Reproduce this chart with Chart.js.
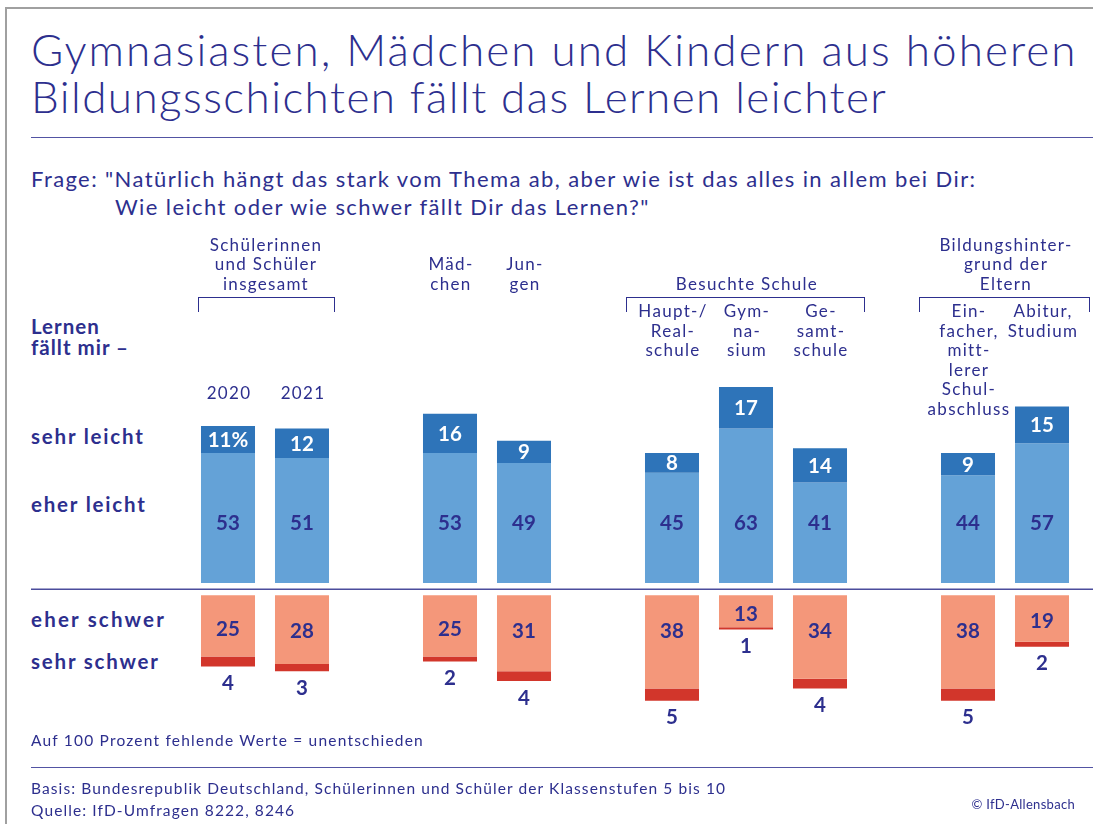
<!DOCTYPE html>
<html lang="de">
<head>
<meta charset="utf-8">
<title>Lernen fällt mir</title>
<script src="https://cdn.jsdelivr.net/npm/chart.js@4.4.1/dist/chart.umd.min.js"></script>
<style>
body{margin:0;background:#fff;font-family:Lato,"Noto Sans",sans-serif;color:#2d2f8e;}
#wrap{position:relative;width:1093px;height:824px;overflow:hidden;}
#frame{position:absolute;left:5px;top:7px;width:1200px;height:900px;border-left:2px solid #a0a0a0;border-top:2px solid #a0a0a0;}
#chart{position:absolute;left:0;top:0;}
.t{position:absolute;white-space:nowrap;}
.title{left:31px;top:26px;font-size:44px;line-height:47px;font-weight:300;letter-spacing:1.8px;}
.rule{position:absolute;left:31px;right:0;height:0;border-top:1.5px solid #5253a3;}
.frage{left:31px;top:165px;font-size:22px;line-height:28px;letter-spacing:1.4px;}
.row{left:31px;font-size:20.5px;line-height:22px;font-weight:bold;letter-spacing:1.8px;}
.head{font-size:17px;line-height:19.5px;text-align:center;transform:translateX(-50%);letter-spacing:1.3px;}
.bracket{position:absolute;border-top:1.5px solid #2d2f8e;border-left:1.5px solid #2d2f8e;border-right:1.5px solid #2d2f8e;height:14px;}
.foot{left:31px;font-size:15.5px;line-height:18px;letter-spacing:1.1px;}
</style>
</head>
<body>
<div id="wrap">
  <div id="frame"></div>
  <div class="t title"><span style="letter-spacing:2.05px">Gymnasiasten, Mädchen und Kindern aus höheren</span><br><span style="letter-spacing:1.45px">Bildungsschichten fällt das Lernen leichter</span></div>
  <div class="rule" style="top:137px"></div>
  <div class="t frage">Frage: "Natürlich hängt das stark vom Thema ab, aber wie ist das alles in allem bei Dir:<br><span style="padding-left:84px">Wie leicht oder wie schwer fällt Dir das Lernen?"</span></div>
  <div class="t row" style="top:316px;line-height:21px;letter-spacing:1px">Lernen<br>fällt mir –</div>
  <div class="t row" style="top:425px">sehr leicht</div>
  <div class="t row" style="top:493px">eher leicht</div>
  <div class="t row" style="top:608px;letter-spacing:2.2px">eher schwer</div>
  <div class="t row" style="top:650px">sehr schwer</div>
  <canvas id="chart" width="1093" height="824"></canvas>
  <div class="t foot" style="top:731px;letter-spacing:1.2px">Auf 100 Prozent fehlende Werte = unentschieden</div>
  <div class="rule" style="top:767px"></div>
  <div class="t foot" style="top:779px">Basis: Bundesrepublik Deutschland, Schülerinnen und Schüler der Klassenstufen 5 bis 10</div>
  <div class="t foot" style="top:801px">Quelle: IfD-Umfragen 8222, 8246</div>
  <div class="t" style="right:18px;top:796px;font-size:13px;letter-spacing:0.3px">© IfD-Allensbach</div>
</div>
<script>
// categories (empty strings are the gaps between the groups)
var categories = ["2020", "2021", "", "Mädchen", "Jungen", "", "Haupt-/Realschule", "Gymnasium", "Gesamtschule", "", "Einfacher, mittlerer Schulabschluss", "Abitur, Studium"];
var headerLines = [["2020"], ["2021"], [], ["Mäd-", "chen"], ["Jun-", "gen"], [], ["Haupt-/", "Real-", "schule"], ["Gym-", "na-", "sium"], ["Ge-", "samt-", "schule"], [], ["Ein-", "facher,", "mitt-", "lerer", "Schul-", "abschluss"], ["Abitur,", "Studium"]];

var sehrLeicht = [11, 12, null, 16, 9, null, 8, 17, 14, null, 9, 15];
var eherLeicht = [53, 51, null, 53, 49, null, 45, 63, 41, null, 44, 57];
var eherSchwer = [25, 28, null, 25, 31, null, 38, 13, 34, null, 38, 19];
var sehrSchwer = [4, 3, null, 2, 4, null, 5, 1, 4, null, 5, 2];

// group headers: text lines, first/last category index
var groups = [
    { lines: ["Schülerinnen", "und Schüler", "insgesamt"], from: 0, to: 1 },
    { lines: ["Besuchte Schule"], from: 6, to: 8 },
    { lines: ["Bildungshinter-", "grund der", "Eltern"], from: 10, to: 11 },
];

var GAP = 2.5; // white gap on both sides of the zero line

let floatUp = (base, vals) => vals.map((v, i) => (v == null ? null : [GAP + base[i], GAP + base[i] + v]));
let floatDown = (base, vals) => vals.map((v, i) => (v == null ? null : [-GAP - base[i], -GAP - base[i] - v]));
var zeros = categories.map(() => 0);

var valueLabels = {
    id: "valueLabels",
    afterDatasetsDraw(chart) {
        var ctx = chart.ctx;
        var zero = chart.scales.y.getPixelForValue(0);
        ctx.save();
        ctx.strokeStyle = "#4b4c9c";
        ctx.lineWidth = 1.5;
        ctx.beginPath();
        ctx.moveTo(31, zero);
        ctx.lineTo(chart.width, zero);
        ctx.stroke();
        ctx.font = "bold 20.5px Lato";
        ctx.textAlign = "center";
        ctx.textBaseline = "middle";
        chart.data.datasets.forEach((ds, di) => {
            chart.getDatasetMeta(di).data.forEach((bar, i) => {
                var v = ds.raw[i];
                if (v == null) return;
                var top = Math.min(bar.y, bar.base);
                var bottom = Math.max(bar.y, bar.base);
                var y;
                var text = String(v);
                ctx.fillStyle = "#2d2f8e";
                if (di == 0) {
                    ctx.fillStyle = "#ffffff";
                    y = (top + bottom) / 2;
                    if (i == 0) text = v + "%";
                } else if (di == 1) {
                    y = zero - 67;
                } else if (di == 2) {
                    y = Math.min((top + bottom) / 2 + 2, zero + 41);
                } else {
                    y = bottom + 16;
                }
                ctx.fillText(text, bar.x, y + 1);
            });
        });
        ctx.restore();
    },
};

var ctx = document.getElementById("chart").getContext("2d");
var myChart = new Chart(ctx, {
    type: "bar",
    data: {
        labels: categories,
        datasets: [
            { label: "sehr leicht", data: floatUp(eherLeicht, sehrLeicht), raw: sehrLeicht, backgroundColor: "#2e74b9" },
            { label: "eher leicht", data: floatUp(zeros, eherLeicht), raw: eherLeicht, backgroundColor: "#64a2d7" },
            { label: "eher schwer", data: floatDown(zeros, eherSchwer), raw: eherSchwer, backgroundColor: "#f4977a" },
            { label: "sehr schwer", data: floatDown(eherSchwer, sehrSchwer), raw: sehrSchwer, backgroundColor: "#d2362b" },
        ],
    },
    options: {
        responsive: false,
        devicePixelRatio: 1,
        animation: false,
        layout: { padding: { left: 191, right: 14, top: 380.75, bottom: 112.25 } },
        datasets: { bar: { grouped: false, barPercentage: 0.73, categoryPercentage: 1, borderWidth: 0 } },
        plugins: { legend: { display: false }, tooltip: { enabled: false } },
        scales: {
            x: { display: false, offset: true },
            y: { display: false, min: -50, max: 85 },
        },
    },
    plugins: [valueLabels],
});

// header texts above the bars, placed on the x scale
let placeHeaders = () => {
    var wrap = document.getElementById("wrap");
    var xs = myChart.scales.x;
    headerLines.forEach((lines, i) => {
        if (!lines.length) return;
        var d = document.createElement("div");
        d.className = "t head";
        d.style.left = xs.getPixelForValue(i) + 1 + "px";
        d.style.top = (i < 2 ? 383 : i < 6 ? 254 : 301) + "px";
        d.innerHTML = lines.join("<br>");
        wrap.appendChild(d);
    });
    groups.forEach((g) => {
        var x1 = xs.getPixelForValue(g.from);
        var x2 = xs.getPixelForValue(g.to);
        var d = document.createElement("div");
        d.className = "t head";
        d.style.left = (x1 + x2) / 2 + 1 + "px";
        d.style.top = 293 - g.lines.length * 19.5 + "px";
        d.innerHTML = g.lines.join("<br>");
        wrap.appendChild(d);
        var b = document.createElement("div");
        b.className = "bracket";
        var pad = g.from == 0 ? 30 : g.from == 6 ? 46 : 49;
        var right = g.from == 10 ? 1088 : x2 + (g.from == 0 ? 31 : 43);
        b.style.left = x1 - pad + "px";
        b.style.width = right - (x1 - pad) + "px";
        b.style.top = "297px";
        wrap.appendChild(b);
    });
};
placeHeaders();
</script>
</body>
</html>
